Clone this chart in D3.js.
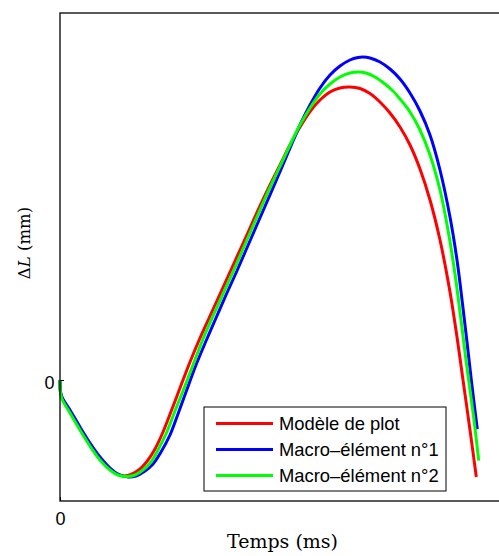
<!DOCTYPE html>
<html>
<head>
<meta charset="utf-8">
<script src="https://cdn.jsdelivr.net/npm/d3@7"></script>
<style>
  body { margin: 0; background: #fff; }
  svg { display: block; }
</style>
</head>
<body>
<div id="chart"></div>
<script>
// time (ms) and ΔL (mm)
const seriesNames = ["Modèle de plot", "Macro\u2013élément n°1", "Macro\u2013élément n°2"];
const seriesColors = ["#ff0000", "#0000ff", "#00ff00"];

const tRed = [0,0.005,0.02,0.10,0.20,0.30,0.40,0.50,0.57,0.64,0.71,0.80,0.88,0.95,1.03,1.12,1.20,1.30,1.40,1.50,1.60,1.70,1.80,1.90,2.00,2.10,2.20,2.30,2.40,2.50,2.60,2.70,2.80,2.90,3.00,3.10,3.20,3.30,3.40,3.50,3.60,3.70,3.80,3.90,3.97,4.03,4.10,4.163];
const dlRed = [0,-0.12,-0.18,-0.32,-0.49,-0.65,-0.79,-0.89,-0.94,-0.96,-0.945,-0.89,-0.80,-0.69,-0.52,-0.29,-0.08,0.18,0.42,0.64,0.86,1.08,1.30,1.52,1.74,1.95,2.15,2.35,2.53,2.685,2.80,2.88,2.92,2.93,2.915,2.865,2.78,2.67,2.53,2.35,2.11,1.80,1.40,0.88,0.43,0,-0.50,-0.97];

const tBlue = [0,0.005,0.02,0.10,0.20,0.30,0.40,0.50,0.58,0.68,0.76,0.85,0.93,1.01,1.10,1.18,1.26,1.36,1.46,1.56,1.66,1.76,1.86,1.96,2.06,2.16,2.25,2.33,2.40,2.50,2.60,2.70,2.80,2.90,2.98,3.03,3.10,3.20,3.30,3.40,3.50,3.60,3.70,3.80,3.90,3.97,4.03,4.07,4.113,4.173];
const dlBlue = [0,-0.12,-0.17,-0.30,-0.47,-0.63,-0.77,-0.88,-0.94,-0.97,-0.96,-0.91,-0.84,-0.72,-0.55,-0.34,-0.12,0.15,0.39,0.62,0.85,1.07,1.30,1.53,1.76,1.99,2.20,2.39,2.55,2.75,2.92,3.05,3.14,3.20,3.225,3.23,3.22,3.18,3.11,3.01,2.87,2.69,2.45,2.10,1.63,1.20,0.72,0.38,0,-0.493];

const tGreen = [0,0.005,0.02,0.10,0.20,0.30,0.40,0.50,0.58,0.67,0.75,0.83,0.91,0.98,1.06,1.15,1.23,1.33,1.43,1.53,1.63,1.73,1.83,1.93,2.03,2.13,2.23,2.32,2.40,2.50,2.60,2.70,2.80,2.90,2.98,3.06,3.15,3.25,3.33,3.40,3.50,3.60,3.70,3.80,3.88,3.95,4.01,4.06,4.10,4.14,4.187];
const dlGreen = [0,-0.13,-0.19,-0.33,-0.50,-0.66,-0.80,-0.90,-0.95,-0.965,-0.95,-0.90,-0.82,-0.70,-0.54,-0.31,-0.11,0.15,0.41,0.64,0.86,1.08,1.31,1.54,1.77,1.99,2.20,2.39,2.55,2.72,2.86,2.96,3.03,3.07,3.08,3.07,3.03,2.96,2.89,2.81,2.68,2.50,2.25,1.90,1.50,1.06,0.60,0.20,-0.10,-0.40,-0.807];

const xTicks = [0];
const yTicks = [0];

const W = 499, H = 556;
const mL = 60, mR = 505, mT = 13, mB = 501;

const svg = d3.select("#chart").append("svg")
  .attr("width", W).attr("height", H);

const x = d3.scaleLinear().domain([0, 4.45]).range([mL, mR]);
const y = d3.scaleLinear().domain([-1.21, 3.67]).range([mB, mT]);

const series = [
  { name: seriesNames[0], color: seriesColors[0], pts: tRed.map((t, i) => [t, dlRed[i]]) },
  { name: seriesNames[1], color: seriesColors[1], pts: tBlue.map((t, i) => [t, dlBlue[i]]) },
  { name: seriesNames[2], color: seriesColors[2], pts: tGreen.map((t, i) => [t, dlGreen[i]]) }
];

const line = d3.line()
  .x(d => x(d[0])).y(d => y(d[1]))
  .curve(d3.curveCatmullRom.alpha(0.5));

svg.append("g").selectAll("path")
  .data(series)
  .join("path")
  .attr("d", d => line(d.pts))
  .attr("fill", "none")
  .attr("stroke", d => d.color)
  .attr("stroke-width", 3)
  .attr("stroke-linejoin", "round");

// box (right edge falls outside the window)
svg.append("rect")
  .attr("x", mL).attr("y", mT)
  .attr("width", mR - mL).attr("height", mB - mT)
  .attr("fill", "none").attr("stroke", "#000").attr("stroke-width", 1.3);

const yAxis = svg.append("g")
  .attr("transform", `translate(${mL},0)`)
  .call(d3.axisLeft(y).tickValues(yTicks).tickFormat(d3.format("d"))
    .tickSizeInner(-4).tickSizeOuter(0).tickPadding(5.5));
yAxis.select(".domain").remove();
yAxis.selectAll(".tick text").attr("dy", "0.45em");

const xAxis = svg.append("g")
  .attr("transform", `translate(0,${mB})`)
  .call(d3.axisBottom(x).tickValues(xTicks).tickFormat(d3.format("d"))
    .tickSizeInner(-4).tickSizeOuter(0).tickPadding(11.5));
xAxis.select(".domain").remove();

svg.selectAll(".tick text")
  .attr("font-family", "'Liberation Sans', Arial, sans-serif")
  .attr("font-size", 18).attr("fill", "#000");
svg.selectAll(".tick line").attr("stroke", "#000");

// axis titles
svg.append("text")
  .attr("x", (mL + mR) / 2).attr("y", 548)
  .attr("text-anchor", "middle")
  .attr("font-family", "'DejaVu Serif', 'Liberation Serif', serif")
  .attr("font-size", 19)
  .text("Temps (ms)");

const yl = svg.append("text")
  .attr("transform", "translate(30,243) rotate(-90)")
  .attr("text-anchor", "middle")
  .attr("font-family", "'DejaVu Serif', 'Liberation Serif', serif")
  .attr("font-size", 16.5);
yl.append("tspan").text("\u0394");
yl.append("tspan").attr("font-style", "italic").text("L");
yl.append("tspan").text(" (mm)");

// legend
const lg = svg.append("g").attr("transform", "translate(204,407)");
lg.append("rect")
  .attr("width", 242).attr("height", 84)
  .attr("fill", "#fff").attr("stroke", "#000").attr("stroke-width", 1);

const rows = lg.selectAll("g.row")
  .data(series)
  .join("g")
  .attr("class", "row")
  .attr("transform", (d, i) => `translate(0,${16.5 + i * 26})`);
rows.append("line")
  .attr("x1", 12).attr("x2", 69)
  .attr("stroke", d => d.color).attr("stroke-width", 3);
rows.append("text")
  .attr("x", 75).attr("y", 6)
  .attr("font-family", "'Liberation Sans', Arial, sans-serif")
  .attr("font-size", 18.4)
  .text(d => d.name);
</script>
</body>
</html>
